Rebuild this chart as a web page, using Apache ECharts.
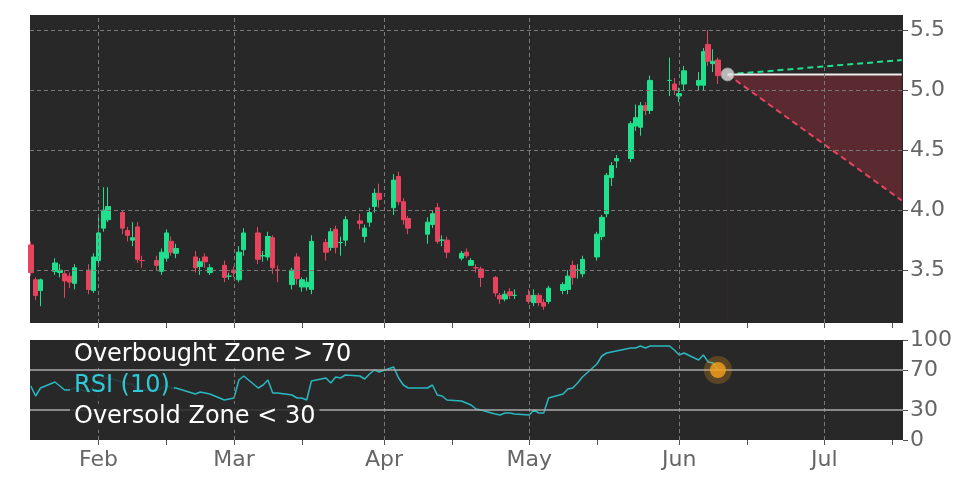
<!DOCTYPE html>
<html><head><meta charset="utf-8">
<script src="https://cdn.jsdelivr.net/npm/echarts@6/dist/echarts.min.js"></script>
<style>html,body{margin:0;padding:0;background:#fff}#c{width:972px;height:486px}</style>
</head><body><div id="c"></div>
<script>
const dates = ['2023-01-18','2023-01-19','2023-01-20',
'2023-01-23','2023-01-24','2023-01-25','2023-01-26','2023-01-27',
'2023-01-30','2023-01-31','2023-02-01','2023-02-02','2023-02-03',
'2023-02-06','2023-02-07','2023-02-08','2023-02-09','2023-02-10',
'2023-02-13','2023-02-14','2023-02-15','2023-02-16','2023-02-17',
'2023-02-21','2023-02-22','2023-02-23','2023-02-24',
'2023-02-27','2023-02-28','2023-03-01','2023-03-02','2023-03-03',
'2023-03-06','2023-03-07','2023-03-08','2023-03-09','2023-03-10',
'2023-03-13','2023-03-14','2023-03-15','2023-03-16','2023-03-17',
'2023-03-20','2023-03-21','2023-03-22','2023-03-23','2023-03-24',
'2023-03-27','2023-03-28','2023-03-29','2023-03-30','2023-03-31',
'2023-04-03','2023-04-04','2023-04-05','2023-04-06',
'2023-04-10','2023-04-11','2023-04-12','2023-04-13','2023-04-14',
'2023-04-17','2023-04-18','2023-04-19','2023-04-20','2023-04-21',
'2023-04-24','2023-04-25','2023-04-26','2023-04-27','2023-04-28',
'2023-05-01','2023-05-02','2023-05-03','2023-05-04','2023-05-05',
'2023-05-08','2023-05-09','2023-05-10','2023-05-11','2023-05-12',
'2023-05-15','2023-05-16','2023-05-17','2023-05-18','2023-05-19',
'2023-05-22','2023-05-23','2023-05-24','2023-05-25','2023-05-26',
'2023-05-30','2023-05-31','2023-06-01','2023-06-02',
'2023-06-05','2023-06-06','2023-06-07','2023-06-08','2023-06-09'];
const opens = [3.71,3.42,3.33, 3.49,3.48,3.47,3.45,3.39, 3.50,3.33,3.58,3.85,3.92, 3.98,3.83,3.75,3.86,3.58, 3.58,3.49,3.60,3.74,3.64, 3.61,3.53,3.61,3.48, 3.54,3.45,3.50,3.42,3.67, 3.81,3.62,3.61,3.77,3.50, 3.38,3.61,3.36,3.36,3.34, 3.73,3.69,3.84,3.73,3.75, 3.91,3.78,3.90,4.03,4.14, 4.02,4.28,4.07,3.93, 3.80,3.88,4.02,3.75,3.75, 3.60,3.65,3.54,3.52,3.51, 3.44,3.29,3.26,3.32,3.29, 3.29,3.23,3.29,3.23,3.24, 3.33,3.34,3.54,3.50,3.47, 3.61,3.78,3.97,4.27,4.41, 4.43,4.70,4.69,4.87,4.83, 5.08,5.05,4.95,5.05, 5.04,5.04,5.38,5.22,5.25];
const closes = [3.48,3.29,3.42, 3.56,3.50,3.41,3.40,3.52, 3.34,3.61,3.81,4.00,4.03, 3.85,3.79,3.77,3.59,3.58, 3.54,3.65,3.81,3.65,3.68, 3.52,3.57,3.57,3.52, 3.44,3.45,3.48,3.65,3.81, 3.59,3.62,3.78,3.52,3.50, 3.50,3.43,3.42,3.40,3.74, 3.65,3.82,3.69,3.73,3.92, 3.89,3.85,3.98,4.14,4.09, 4.25,4.07,3.92,3.85, 3.90,3.97,3.74,3.75,3.65, 3.64,3.62,3.58,3.52,3.44, 3.31,3.26,3.30,3.29,3.29, 3.24,3.29,3.23,3.20,3.35, 3.38,3.45,3.44,3.50,3.59, 3.80,3.94,4.29,4.37,4.43, 4.72,4.77,4.87,4.83,5.08, 5.08,5.00,4.97,5.16, 5.08,5.32,5.24,5.24,5.12];
const lows = [3.45,3.25,3.20, 3.46,3.44,3.27,3.35,3.34, 3.30,3.31,3.55,3.82,3.90, 3.80,3.74,3.70,3.56,3.52, 3.50,3.46,3.57,3.62,3.60, 3.48,3.46,3.52,3.46, 3.40,3.42,3.44,3.40,3.62, 3.55,3.57,3.58,3.47,3.40, 3.34,3.38,3.32,3.33,3.30, 3.58,3.66,3.64,3.62,3.70, 3.84,3.73,3.86,3.98,4.02, 3.96,4.04,3.88,3.80, 3.72,3.85,3.72,3.70,3.60, 3.58,3.60,3.55,3.48,3.36, 3.28,3.22,3.24,3.26,3.26, 3.22,3.20,3.20,3.17,3.22, 3.30,3.30,3.38,3.43,3.44, 3.58,3.75,3.94,4.20,4.35, 4.40,4.66,4.62,4.79,4.80, 4.95,4.96,4.90,5.00, 5.00,5.00,5.20,5.15,5.05];
const highs = [3.74,3.44,3.43, 3.60,3.55,3.50,3.48,3.55, 3.55,3.64,3.96,4.19,4.19, 4.00,3.86,3.90,3.90,3.62, 3.62,3.68,3.84,3.78,3.72, 3.66,3.60,3.64,3.55, 3.58,3.48,3.53,3.70,3.85, 3.86,3.66,3.82,3.79,3.54, 3.52,3.64,3.44,3.44,3.79, 3.76,3.85,3.87,3.78,3.95, 3.97,3.88,4.02,4.18,4.22, 4.30,4.32,4.10,3.95, 3.94,4.00,4.06,3.79,3.78, 3.66,3.68,3.60,3.55,3.53, 3.45,3.31,3.33,3.35,3.34, 3.34,3.34,3.31,3.26,3.37, 3.40,3.50,3.58,3.55,3.62, 3.82,3.96,4.31,4.40,4.46, 4.74,4.88,4.90,4.90,5.12, 5.27,5.10,5.02,5.20, 5.15,5.35,5.50,5.34,5.27];
const rsi = [54,44,52, 58,54,50,50,52, 48,54,58,62,62, 58,56,56,50,50, 49,52,55,52,52, 46,48,47,46, 40,41,42,60,64, 52,55,60,47,47, 45,42,42,40,59, 62,57,63,62,65, 64,61,66,70,68, 73,62,55,52, 52,55,45,44,40, 39,37,35,31,30, 26,25,27,27,26, 25,30,27,27,42, 46,51,52,57,63, 76,84,87,88,89, 92,92,94,92,94, 94,90,85,87, 80,85,78,77,70];
const projDates = ['2023-06-11','2023-07-17'];
const projBase = [5.13,5.13];
const projUp = [5.13,5.25];
const projDown = [5.13,4.08];
const priceTicks = [3.5,4.0,4.5,5.0,5.5];
const rsiTicks = [0,30,70,100];
const monthTicks = ['2023-02-01','2023-03-01','2023-04-01','2023-05-01','2023-06-01','2023-07-01'];
const midTicks = ['2023-02-15','2023-03-15','2023-04-15','2023-05-15','2023-06-15','2023-07-15'];
const monthNames = ['Jan','Feb','Mar','Apr','May','Jun','Jul','Aug','Sep','Oct','Nov','Dec'];

const ts = d => new Date(d + 'T00:00:00Z').getTime();
const xMin = ts('2023-01-17') + 20*3600e3, xMax = ts('2023-07-17') + 6*3600e3;
const green = '#1fe08c', red = '#e8435e', bg = '#282828';
const candle = dates.map((d,i)=>[ts(d), opens[i], closes[i], lows[i], highs[i]]);
const gridStyle = {color:'#7a7a7a', type:[4,3], width:1};
const vLines = monthTicks.map(m=>({xAxis: ts(m)}));
const FS = 22;
function xAxisCfg(idx, showLabel){
  return {type:'value', gridIndex:idx, min:xMin, max:xMax, scale:true,
    axisLine:{show:false}, splitLine:{show:false},
    axisTick:{show:true, length:5, lineStyle:{color:'#555'}, customValues: monthTicks.concat(midTicks).map(ts)},
    axisLabel:{show:showLabel, customValues: monthTicks.map(ts), color:'#666', fontSize:FS, fontFamily:'DejaVu Sans', margin:9,
      formatter: v => monthNames[new Date(v).getUTCMonth()]}};
}
const chart = echarts.init(document.getElementById('c'));
chart.setOption({
  animation:false, backgroundColor:'#fff',
  grid:[{left:30, right:69, top:15, height:308, backgroundColor:bg, show:true, borderWidth:0},
        {left:30, right:69, top:340, height:100, backgroundColor:bg, show:true, borderWidth:0}],
  xAxis:[xAxisCfg(0,false), xAxisCfg(1,true)],
  yAxis:[{type:'value', gridIndex:0, position:'right', min:3.06, max:5.625, scale:true,
      axisLine:{show:false}, splitLine:{show:false},
      axisTick:{show:true, length:5, lineStyle:{color:'#555'}, customValues:priceTicks},
      axisLabel:{customValues:priceTicks, color:'#666', fontSize:FS, fontFamily:'DejaVu Sans', margin:7, formatter:v=>v.toFixed(1)}},
    {type:'value', gridIndex:1, position:'right', min:0, max:100,
      axisLine:{show:false}, splitLine:{show:false},
      axisTick:{show:true, length:5, lineStyle:{color:'#555'}, customValues:rsiTicks},
      axisLabel:{customValues:rsiTicks, color:'#666', fontSize:FS, fontFamily:'DejaVu Sans', margin:7}}],
  series:[
    {type:'line', xAxisIndex:0, yAxisIndex:0, z:1, data:projDates.map((d,i)=>[ts(d),projBase[i]]), symbol:'none', lineStyle:{opacity:0}, areaStyle:{color:'#5a2a30', opacity:1}},
    {type:'line', xAxisIndex:0, yAxisIndex:0, z:1, data:projDates.map((d,i)=>[ts(d),projDown[i]]), symbol:'none', lineStyle:{opacity:0}, areaStyle:{color:bg, opacity:1}},
    {type:'line', xAxisIndex:0, yAxisIndex:0, data:[], silent:true, z:2,
      markLine:{symbol:'none', silent:true, label:{show:false}, lineStyle:gridStyle,
        data: vLines.concat(priceTicks.map(v=>({yAxis:v})))}},
    {type:'line', xAxisIndex:1, yAxisIndex:1, data:[], silent:true, z:2,
      markLine:{symbol:'none', silent:true, label:{show:false}, lineStyle:gridStyle, data: vLines}},
    {type:'line', xAxisIndex:1, yAxisIndex:1, data:[], silent:true, z:2,
      markLine:{symbol:'none', silent:true, label:{show:false}, lineStyle:{color:'#aaa', type:'solid', width:1.5}, data:[{yAxis:30},{yAxis:70}]}},
    {type:'candlestick', xAxisIndex:0, yAxisIndex:0, z:3, data:candle, barWidth:5,
      itemStyle:{color:green, color0:red, borderColor:green, borderColor0:red, borderWidth:1}},
    {type:'line', xAxisIndex:0, yAxisIndex:0, z:4, data:projDates.map((d,i)=>[ts(d),projDown[i]]), symbol:'none', lineStyle:{color:'#e8435e', type:[6,4], width:2}},
    {type:'line', xAxisIndex:0, yAxisIndex:0, z:4, data:projDates.map((d,i)=>[ts(d),projUp[i]]), symbol:'none', lineStyle:{color:'#1fe08c', type:[6,4], width:2}},
    {type:'line', xAxisIndex:0, yAxisIndex:0, z:4, data:projDates.map((d,i)=>[ts(d),projBase[i]]), symbol:'none', lineStyle:{color:'#eee', width:2}},
    {type:'scatter', xAxisIndex:0, yAxisIndex:0, data:[[ts(projDates[0]),projBase[0]]], symbolSize:13, itemStyle:{color:'#ddd', borderColor:'#999', borderWidth:1}, z:10},
    {type:'line', xAxisIndex:1, yAxisIndex:1, z:4, data:dates.map((d,i)=>[ts(d),rsi[i]]), symbol:'none', lineStyle:{color:'#2ab8c0', width:1.5}},
    {type:'scatter', xAxisIndex:1, yAxisIndex:1, data:[[ts(dates[dates.length-1]),rsi[rsi.length-1]]], symbolSize:28, itemStyle:{color:'rgba(245,160,26,0.3)'}, z:9},
    {type:'scatter', xAxisIndex:1, yAxisIndex:1, data:[[ts(dates[dates.length-1]),rsi[rsi.length-1]]], symbolSize:16, itemStyle:{color:'#f5a01a'}, z:10}
  ],
  graphic:[
    {type:'text', left:70, top:342, z:20, style:{text:'Overbought Zone > 70', fill:'#fff', font:'24px "DejaVu Sans"', backgroundColor:'rgba(40,40,40,0.85)', padding:[1,4]}},
    {type:'text', left:70, top:373, z:20, style:{text:'RSI (10)', fill:'#2ec8d8', font:'24px "DejaVu Sans"', backgroundColor:'rgba(40,40,40,0.85)', padding:[1,4]}},
    {type:'text', left:70, top:404, z:20, style:{text:'Oversold Zone < 30', fill:'#fff', font:'24px "DejaVu Sans"', backgroundColor:'rgba(40,40,40,0.85)', padding:[1,4]}}
  ]
});
</script></body></html>
